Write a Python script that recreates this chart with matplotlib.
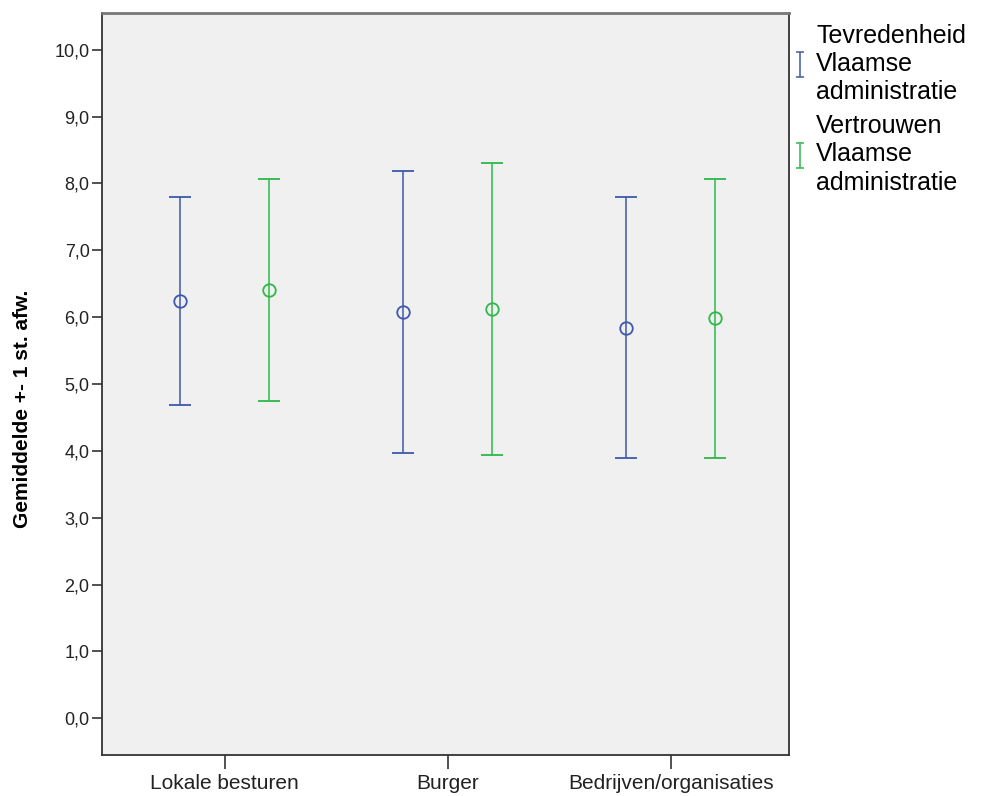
import matplotlib.pyplot as plt
import numpy as np

plt.rcParams['font.family'] = ['Liberation Sans', 'DejaVu Sans']

categories = ["Lokale besturen", "Burger", "Bedrijven/organisaties"]
series_names = ["Tevredenheid\nVlaamse\nadministratie", "Vertrouwen\nVlaamse\nadministratie"]
tevredenheid_mean = [6.24, 6.08, 5.84]
tevredenheid_sd = [1.56, 2.11, 1.95]
vertrouwen_mean = [6.41, 6.12, 5.98]
vertrouwen_sd = [1.66, 2.18, 2.09]
y_ticks = [0, 1, 2, 3, 4, 5, 6, 7, 8, 9, 10]

colors = ["#3e58ac", "#2eb848"]
offsets = [-0.2, 0.2]

fig = plt.figure(figsize=(9.83, 7.96), dpi=100)
ax = fig.add_axes([0.1038, 0.0515, 0.6988, 0.9322])
ax.set_facecolor("#f0f0f0")

x = np.arange(len(categories))
proxies = []
for means, sds, col, off in zip([tevredenheid_mean, vertrouwen_mean],
                                [tevredenheid_sd, vertrouwen_sd], colors, offsets):
    ax.errorbar(x + off, means, yerr=sds, fmt='o', color=col, mfc='none',
                mec=col, ms=9, mew=1.3, elinewidth=1.1, capsize=8, capthick=1.1)
    # legend proxy: only the error bar "I" symbol
    p = ax.errorbar([np.nan], [np.nan], yerr=[[1], [1]], fmt='none', ecolor=col,
                    elinewidth=1.1, capsize=3, capthick=1.1)
    proxies.append(p)

ax.set_xlim(-0.55, 2.53)
ax.set_ylim(-0.55, 10.55)
ax.set_xticks(x)
ax.set_xticklabels(categories, fontsize=15, color="#222222")
ax.set_yticks(y_ticks)
ax.set_yticklabels([f"{v:.1f}".replace(".", ",") for v in y_ticks], fontsize=13, color="#222222")
ax.tick_params(axis='x', length=10, width=1.2, color="#333333", pad=4)
ax.tick_params(axis='y', length=7, width=1.2, color="#333333", pad=2)
for s in ax.spines.values():
    s.set_color("#333333")
    s.set_linewidth(1.3)
ax.spines['top'].set_color("#777777")
ax.spines['top'].set_linewidth(2)

ax.set_ylabel("Gemiddelde +- 1 st. afw.", fontsize=15, fontweight='bold')
ax.yaxis.set_label_coords(-0.102, 0.466)

leg = fig.legend(proxies, series_names, loc='upper left', bbox_to_anchor=(0.805, 0.970),
                 frameon=False, fontsize=18, handlelength=0.7, handletextpad=0.3,
                 labelspacing=0.4, borderaxespad=0, borderpad=0)
for t in leg.get_texts():
    t.set_linespacing(1.22)

fig.savefig("out.png", dpi=100)
